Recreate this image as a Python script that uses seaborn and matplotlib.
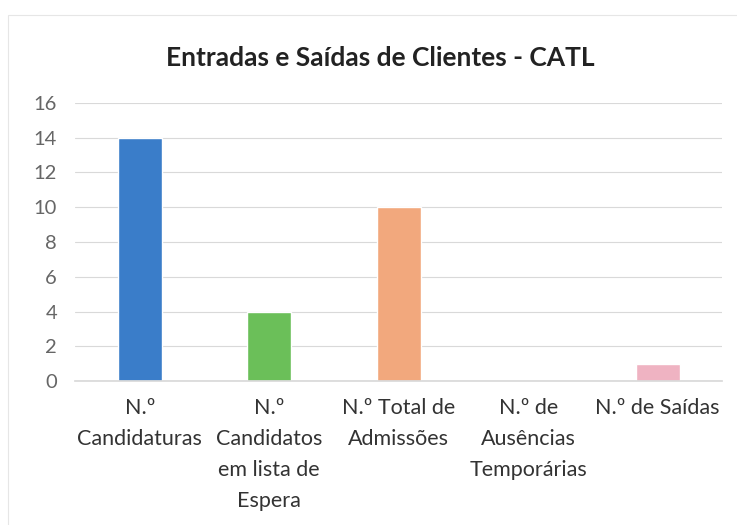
import matplotlib
matplotlib.use("Agg")
import matplotlib.pyplot as plt
import seaborn as sns
import pandas as pd
from matplotlib.patches import Rectangle

categories = [
    "N.º\nCandidaturas",
    "N.º\nCandidatos\nem lista de\nEspera",
    "N.º Total de\nAdmissões",
    "N.º de\nAusências\nTemporárias",
    "N.º de Saídas",
]
values = [14, 4, 10, 0, 1]
colors = ["#3A7DC9", "#6BBF59", "#F2A87D", "#5B9BD5", "#EFB3C2"]

sns.set_theme(style="white")
plt.rcParams["font.family"] = ["Lato", "DejaVu Sans"]

df = pd.DataFrame({"categoria": categories, "valor": values})

fig = plt.figure(figsize=(7.37, 5.25), dpi=100)
ax = fig.add_axes([0.102, 0.274, 0.878, 0.530])

sns.barplot(data=df, x="categoria", y="valor", hue="categoria", palette=colors,
            legend=False, width=0.34, ax=ax, saturation=1)

ax.set_ylim(0, 16)
ax.set_yticks(range(0, 17, 2))
ax.yaxis.grid(True, color="#D9D9D9", linewidth=0.8)
ax.set_axisbelow(True)
for s in ["top", "right", "left"]:
    ax.spines[s].set_visible(False)
ax.spines["bottom"].set_color("#D9D9D9")
ax.set_xlabel("")
ax.set_ylabel("")
ax.tick_params(axis="y", labelsize=14.5, colors="#666666", length=0, pad=13)
ax.tick_params(axis="x", labelsize=15.5, colors="#333333", length=0, pad=12)
for lbl in ax.get_xticklabels():
    lbl.set_linespacing(1.7)

fig.text(0.516, 0.89, "Entradas e Saídas de Clientes - CATL", ha="center", va="center",
         fontsize=19, fontweight="bold", color="#222222")

fig.patches.append(Rectangle((0.011, -0.1), 1.2, 1.071, transform=fig.transFigure,
                             fill=False, edgecolor="#E6E6E6", linewidth=0.8))

fig.savefig("out.png", dpi=100)
